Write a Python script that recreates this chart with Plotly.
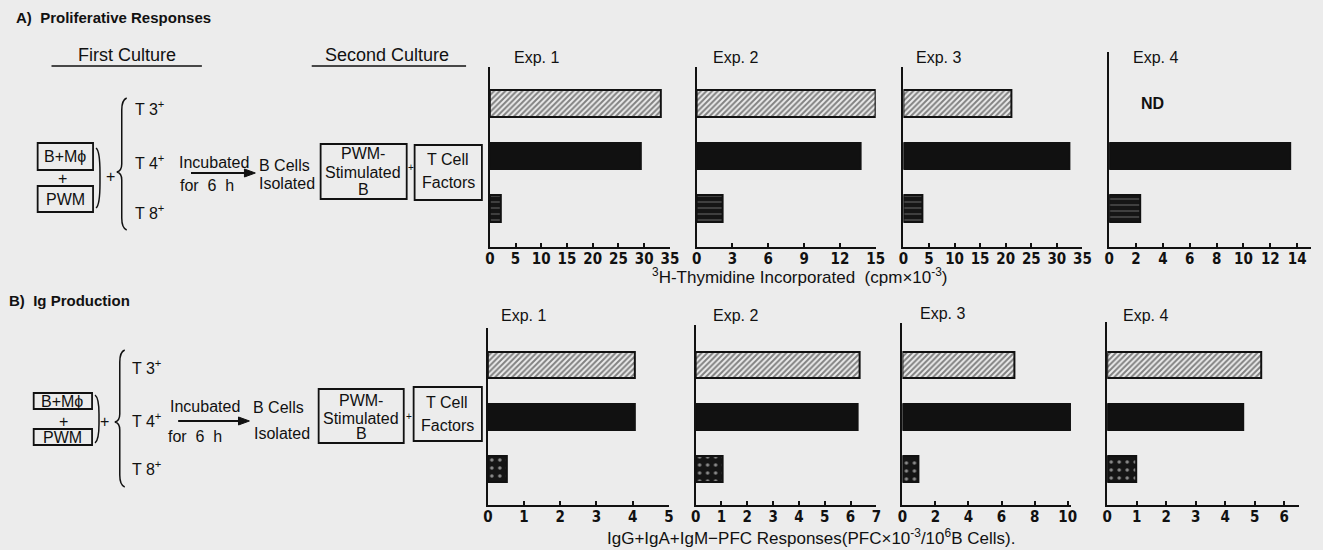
import plotly.graph_objects as go

# ---------------- data ----------------
experiments = ["Exp. 1", "Exp. 2", "Exp. 3", "Exp. 4"]
cells = ["T3⁺", "T4⁺", "T8⁺"]

# A) Proliferative responses (3H-thymidine, cpm x 10^-3); None = ND
prolif_T3 = [33.3, 15.0, 21.1, None]
prolif_T4 = [29.4, 13.7, 32.5, 13.5]
prolif_T8 = [2.2, 2.2, 3.7, 2.3]
prolif_ticks = [[0, 5, 10, 15, 20, 25, 30, 35],
                [0, 3, 6, 9, 12, 15],
                [0, 5, 10, 15, 20, 25, 30, 35],
                [0, 2, 4, 6, 8, 10, 12, 14]]
prolif_max = [35, 15, 35, 15]

# B) Ig production (PFC x 10^-3 / 10^6 B cells)
ig_T3 = [4.05, 6.35, 6.8, 5.23]
ig_T4 = [4.05, 6.28, 10.25, 4.6]
ig_T8 = [0.52, 1.03, 0.96, 0.97]
ig_ticks = [[0, 1, 2, 3, 4, 5],
            [0, 1, 2, 3, 4, 5, 6, 7],
            [0, 2, 4, 6, 8, 10],
            [0, 1, 2, 3, 4, 5, 6]]
ig_max = [5, 7, 10.2, 6.5]

# ---------------- layout helpers ----------------
W, H = 1323, 550
BG = "#ececec"
INK = "#111111"
FONT = "Liberation Sans, Arial, sans-serif"
TICKFONT = "Liberation Sans Narrow, DejaVu Sans Condensed, Arial Narrow, sans-serif"


def fx(x):
    return x / W


def fy(y):
    return 1 - y / H


# pixel geometry of each subplot: (left, scale px/unit, top, bottom)
geomA = [(490, 5.2, 67, 247), (699, 12.07, 67, 247), (908, 5.17, 67, 247), (1116, 13.57, 52, 247)]
geomB = [(488, 36.6, 328, 505), (698, 26.1, 325, 505), (907, 16.7, 323, 505), (1114, 29.8, 322, 505)]
rowA = (103.5, 52.5)  # center of first row, spacing (px)
rowB = (364.5, 52.0)

fig = go.Figure()
layout_axes = {}

hatch = dict(color=BG, line=dict(color=INK, width=2),
             pattern=dict(shape="/", fgcolor="#151515", bgcolor=BG, size=4, solidity=0.5))
solid = dict(color=INK, line=dict(color=INK, width=2))
speckA = dict(color=INK, line=dict(color=INK, width=2),
              pattern=dict(shape="-", fgcolor="#ffffff", bgcolor="#151515", size=6, solidity=0.12))
speckB = dict(color=INK, line=dict(color=INK, width=2),
              pattern=dict(shape=".", fgcolor="#ffffff", bgcolor="#151515", size=8, solidity=0.15))

panels = [
    (prolif_T3, prolif_T4, prolif_T8, prolif_ticks, prolif_max, geomA, rowA, speckA, 0.51),
    (ig_T3, ig_T4, ig_T8, ig_ticks, ig_max, geomB, rowB, speckB, 0.50),
]

k = 0
for (v3, v4, v8, ticks, vmax, geom, row, speck, bw) in panels:
    c0, s = row
    for i in range(4):
        k += 1
        xa = "x" if k == 1 else f"x{k}"
        ya = "y" if k == 1 else f"y{k}"
        left, scale, top, bottom = geom[i]
        right = left + scale * vmax[i]
        for val, cell, mk in ((v3[i], cells[0], hatch), (v4[i], cells[1], solid), (v8[i], cells[2], speck)):
            if val is None:
                continue
            fig.add_trace(go.Bar(x=[val], y=[cell], orientation="h", width=bw,
                                 marker=mk, xaxis=xa, yaxis=ya, showlegend=False,
                                 hoverinfo="x+y"))
        layout_axes["xaxis" if k == 1 else f"xaxis{k}"] = dict(
            domain=[fx(left), fx(right)], range=[0, vmax[i]], anchor=ya,
            showline=True, linecolor=INK, linewidth=2, showgrid=False, zeroline=False,
            ticks="inside", ticklen=4, tickwidth=2, tickcolor=INK,
            tickvals=ticks[i], ticktext=[str(t) for t in ticks[i]],
            tickfont=dict(family=TICKFONT, size=15, color=INK, weight="bold"),
            ticklabelstandoff=-3,
            fixedrange=True)
        layout_axes["yaxis" if k == 1 else f"yaxis{k}"] = dict(
            domain=[fy(bottom), fy(top)], anchor=xa, type="category",
            categoryarray=cells, range=[(bottom - c0) / s, (top - c0) / s],
            showline=True, linecolor=INK, linewidth=2, showgrid=False, zeroline=False,
            showticklabels=False, ticks="", fixedrange=True)

fig.update_layout(width=W, height=H, margin=dict(l=0, r=0, t=0, b=0),
                  paper_bgcolor=BG, plot_bgcolor="rgba(0,0,0,0)",
                  bargap=0, font=dict(family=FONT, color=INK), **layout_axes)

ann = []
shapes = []


def text(x, y, t, size=16, anchor="left", bold=False, family=FONT):
    if anchor == "left":
        x -= 3
    elif anchor == "right":
        x += 3
    ann.append(dict(x=fx(x), y=fy(y), xref="paper", yref="paper", text=t, showarrow=False,
                    xanchor=anchor, yanchor="middle",
                    font=dict(size=size, color=INK, family=family, weight="bold" if bold else "normal")))


def box(x0, y0, x1, y1, w=1.8):
    shapes.append(dict(type="rect", xref="paper", yref="paper", x0=fx(x0), x1=fx(x1),
                       y0=fy(y1), y1=fy(y0), line=dict(color=INK, width=w)))


def line(x0, y0, x1, y1, w=1.5):
    shapes.append(dict(type="line", xref="paper", yref="paper", x0=fx(x0), x1=fx(x1),
                       y0=fy(y0), y1=fy(y1), line=dict(color=INK, width=w)))


def pstr(cmds):
    out = []
    for c in cmds:
        if isinstance(c, str):
            out.append(c)
        else:
            out.append(f"{fx(c[0]):.5f},{fy(c[1]):.5f}")
    return " ".join(out)


def path(cmds, w=1.5):
    shapes.append(dict(type="path", xref="paper", yref="paper", path=pstr(cmds),
                       line=dict(color=INK, width=w)))


def arrow(x0, x1, y):
    line(x0, y, x1 - 8, y, w=2)
    shapes.append(dict(type="path", xref="paper", yref="paper",
                       path=pstr(["M", (x1 - 11, y - 4), "L", (x1, y), "L", (x1 - 11, y + 4), "Z"]),
                       fillcolor=INK, line=dict(color=INK, width=1)))


def brace(x, ytop, ybot, ymid, d=5):
    path(["M", (x + d, ytop), "Q", (x, ytop + 2), (x, ytop + 12), "L", (x, ymid - 8),
          "Q", (x, ymid - 1), (x - d, ymid), "Q", (x, ymid + 1), (x, ymid + 8),
          "L", (x, ybot - 12), "Q", (x, ybot - 2), (x + d, ybot)])


def paren(x, ytop, ybot, d=4):
    ym = (ytop + ybot) / 2
    path(["M", (x, ytop), "Q", (x + d, ytop + 3), (x + d, ym - 5), "L", (x + d, ym + 5),
          "Q", (x + d, ybot - 3), (x, ybot)])


# ---------------- Panel A schematic ----------------
text(12, 18, "A)  Proliferative Responses", size=15, bold=True)
text(123, 55, "First Culture", anchor="center", size=18)
line(47, 66, 199, 66)
text(386, 55, "Second Culture", anchor="center", size=18)
line(310, 66, 466, 66)
box(33, 143, 89, 170)
text(61, 156, "B+Mϕ", anchor="center")
text(58, 178, "+", anchor="center")
box(33, 186, 89, 212)
text(61, 199, "PWM", anchor="center")
paren(92, 148, 208)
text(107, 177, "+", anchor="center")
brace(118, 98, 230, 172)
text(132, 108, "T 3<sup>+</sup>")
text(132, 162, "T 4<sup>+</sup>")
text(132, 212, "T 8<sup>+</sup>")
text(177, 162, "Incubated")
arrow(188, 253, 173)
text(178, 186, "for  6  h")
text(258, 166, "B Cells")
text(258, 184, "Isolated")
box(319, 144, 406, 199)
text(362, 153, "PWM-", anchor="center")
text(362, 172, "Stimulated", anchor="center")
text(362, 189, "B", anchor="center")
text(410, 167, "+", anchor="center", size=10)
box(414, 145, 482, 200)
text(448, 159, "T Cell", anchor="center")
text(448, 182, "Factors", anchor="center")

# ---------------- Panel B schematic ----------------
text(5, 300, "B)  Ig Production", size=15, bold=True)
box(29, 393, 88, 409)
text(58, 401, "B+Mϕ", anchor="center")
text(59, 421, "+", anchor="center")
box(29, 429, 88, 445)
text(58, 437, "PWM", anchor="center")
paren(91, 395, 443)
text(101, 422, "+", anchor="center")
brace(116, 350, 487, 422)
text(129, 367, "T 3<sup>+</sup>")
text(129, 420, "T 4<sup>+</sup>")
text(129, 468, "T 8<sup>+</sup>")
text(168, 406, "Incubated")
arrow(175, 247, 421)
text(166, 436, "for  6  h")
text(252, 407, "B Cells")
text(307, 433, "Isolated", anchor="right")
box(317, 389, 403, 443)
text(360, 400, "PWM-", anchor="center")
text(360, 418, "Stimulated", anchor="center")
text(360, 433, "B", anchor="center")
text(408, 416, "+", anchor="center", size=10)
box(413, 387, 482, 441)
text(447, 402, "T Cell", anchor="center")
text(447, 425, "Factors", anchor="center")

# ---------------- Experiment titles ----------------
titleA = [(515, 57), (717, 57), (922, 57), (1141, 57)]
titleB = [(502, 315), (717, 315), (926, 313), (1131, 315)]
for (x, y), e in zip(titleA, experiments):
    text(x, y, e, size=16)
for (x, y), e in zip(titleB, experiments):
    text(x, y, e, size=16)

# ND label over the missing T3 bar in Exp. 4 (panel A)
ann.append(dict(x=3.2, y=cells[0], xref="x4", yref="y4", text="ND", showarrow=False,
                font=dict(size=16, color=INK, family=FONT, weight="bold")))

# ---------------- axis titles ----------------
text(803, 276, "<sup>3</sup>H-Thymidine Incorporated  (cpm×10<sup>-3</sup>)", size=17, anchor="center")
text(815, 537, "IgG+IgA+IgM−PFC Responses(PFC×10<sup>-3</sup>/10<sup>6</sup>B Cells).", size=17, anchor="center")

fig.update_layout(annotations=ann, shapes=shapes)
fig.write_html("out.html", config={"displayModeBar": False},
               post_script="document.body.style.margin='0';document.body.style.padding='0';")
